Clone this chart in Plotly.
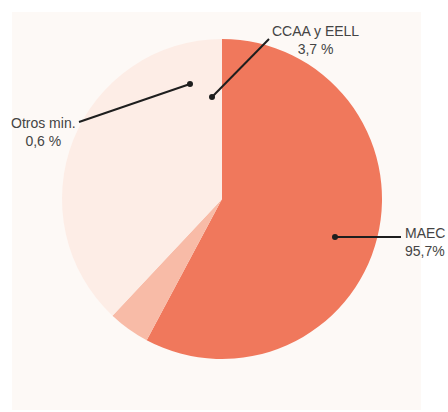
import plotly.graph_objects as go

categories = ["MAEC", "CCAA y EELL (small)", "Otros"]
slice_values = [57.8, 4.2, 38.0]
slice_colors = ["#F0785C", "#F8BBA7", "#FDEDE6"]

label_texts = ["CCAA y EELL<br>3,7 %", "Otros min.<br>0,6 %", "MAEC<br>95,7%"]

W, H = 448, 412


def px(x):
    return x / W


def py(y):
    return 1 - y / H


fig = go.Figure()
fig.add_trace(go.Pie(
    labels=categories,
    values=slice_values,
    marker=dict(colors=slice_colors, line=dict(width=0)),
    sort=False,
    direction="clockwise",
    rotation=0,
    textinfo="none",
    hoverinfo="label+percent",
    showlegend=False,
    domain=dict(x=[px(62), px(382)], y=[py(359), py(39)]),
))

shapes = [
    dict(type="rect", xref="paper", yref="paper", x0=px(12), x1=px(421), y0=py(410), y1=py(12),
         fillcolor="#FDF9F6", line=dict(width=0), layer="below"),
]

leaders = [
    ((212, 97), (269, 39)),
    ((190, 84), (79, 122)),
    ((335, 237), (401, 237)),
]
for (dx, dy), (ex, ey) in leaders:
    shapes.append(dict(type="line", xref="paper", yref="paper",
                       x0=px(dx), y0=py(dy), x1=px(ex), y1=py(ey),
                       line=dict(color="#1e1e1e", width=2)))
    r = 3
    shapes.append(dict(type="circle", xref="paper", yref="paper",
                       x0=px(dx - r), x1=px(dx + r), y0=py(dy + r), y1=py(dy - r),
                       fillcolor="#1e1e1e", line=dict(width=0)))

font = dict(family="Liberation Sans, Arial, sans-serif", size=14, color="#444444")
annotations = [
    dict(text=label_texts[0], x=px(315.5), y=py(40), xanchor="center", yanchor="middle", align="center"),
    dict(text=label_texts[1], x=px(43.5), y=py(132), xanchor="center", yanchor="middle", align="center"),
    dict(text=label_texts[2], x=px(403), y=py(242), xanchor="left", yanchor="middle", align="left"),
]
for a in annotations:
    a.update(xref="paper", yref="paper", showarrow=False, font=font)

fig.update_layout(
    width=W, height=H,
    margin=dict(l=0, r=0, t=0, b=0),
    paper_bgcolor="#FFFFFF",
    plot_bgcolor="#FFFFFF",
    shapes=shapes,
    annotations=annotations,
)

fig.write_html(
    "out.html",
    config={"displayModeBar": False},
    post_script="document.body.style.margin='0';document.body.style.overflow='hidden';",
)
